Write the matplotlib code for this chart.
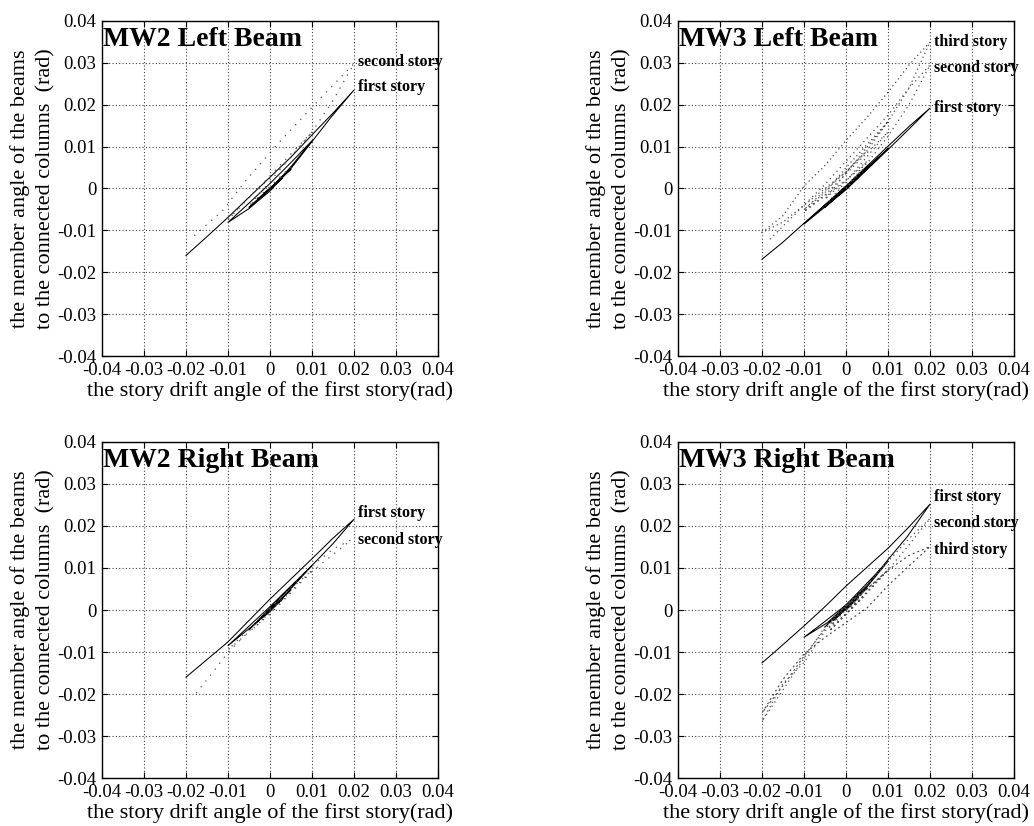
import matplotlib
matplotlib.use("Agg")
import matplotlib.pyplot as plt
from matplotlib.ticker import FuncFormatter

plt.rcParams["font.family"] = ["Liberation Serif", "DejaVu Serif"]

TICKS = [-0.04, -0.03, -0.02, -0.01, 0, 0.01, 0.02, 0.03, 0.04]

# ---- MW2 Left Beam ----
mw2l_first_x = [0, 0.003, -0.003, 0.005, -0.005, 0.0, 0.005, 0.01, 0.005, 0.0, -0.005, -0.01,
                -0.005, 0.0, 0.005, 0.01, 0.0146, 0.02, 0.015, 0.01, 0.005, 0.0, -0.005,
                -0.01, -0.015, -0.02]
mw2l_first_y = [0, 0.0025, -0.0026, 0.0046, -0.0045, -0.0002, 0.0052, 0.0114, 0.0062, 0.0012,
                -0.0035, -0.0081, -0.0048, -0.0006, 0.0048, 0.0112, 0.0171, 0.0235, 0.018,
                0.0128, 0.0075, 0.0027, -0.0021, -0.0069, -0.0115, -0.016]
mw2l_second_x = [0, 0.005, -0.005, 0.01, 0.005, 0, -0.005, -0.01, 0, 0.01, 0.015, 0.02,
                 0.013, 0.0016, -0.0059, -0.0114, -0.0185]
mw2l_second_y = [0, 0.0052, -0.0042, 0.0135, 0.0075, 0.0025, -0.002, -0.0075, 0.003, 0.0135,
                 0.021, 0.0298, 0.0226, 0.0104, 0.0017, -0.0054, -0.0117]

# ---- MW3 Left Beam ----
mw3l_first_x = [0, 0.003, -0.003, 0.005, -0.005, 0.01, 0, -0.01, 0, 0.01, 0.015, 0.02,
                0.015, 0.01, 0, -0.01, -0.015, -0.02]
mw3l_first_y = [0, 0.0027, -0.0027, 0.0047, -0.0045, 0.0095, 0.0005, -0.0085, -0.0003, 0.0093,
                0.0142, 0.0192, 0.0148, 0.0101, 0.0006, -0.0083, -0.0128, -0.0169]
mw3l_second_x = [0, 0.004, -0.004, 0.01, 0.005, 0, -0.005, -0.01, 0, 0.005, 0.01, 0.015,
                 0.02, 0.015, 0.01, 0.005, 0, -0.005, -0.01, -0.015, -0.0185]
mw3l_second_y = [0, 0.0045, -0.003, 0.0135, 0.0085, 0.0035, -0.0015, -0.0055, 0.002, 0.006,
                 0.0125, 0.02, 0.0295, 0.024, 0.0175, 0.012, 0.0065, 0.001, -0.004, -0.009,
                 -0.0125]
mw3l_third_x = [0, 0.005, -0.005, 0.01, 0.005, 0, -0.005, -0.01, 0, 0.005, 0.01, 0.015,
                0.02, 0.015, 0.01, 0.005, 0, -0.005, -0.01, -0.015, -0.02, -0.015, -0.01,
                -0.005, 0, 0.005]
mw3l_third_y = [0, 0.0065, -0.0025, 0.016, 0.0105, 0.005, -0.001, -0.005, 0.004, 0.009, 0.016,
                0.024, 0.035, 0.0295, 0.023, 0.017, 0.0115, 0.0055, 0.0006, -0.0065, -0.0105,
                -0.008, -0.004, 0.0, 0.004, 0.009]

# ---- MW2 Right Beam ----
mw2r_first_x = [0, 0.003, -0.003, 0.005, -0.005, 0.01, 0, -0.01, 0, 0.01, 0.015, 0.02,
                0.015, 0.01, 0, -0.01, -0.015, -0.02]
mw2r_first_y = [0, 0.0026, -0.0027, 0.0048, -0.0047, 0.0106, 0.0008, -0.0085, -0.0004, 0.0106,
                0.0158, 0.0216, 0.0171, 0.0122, 0.0026, -0.0076, -0.0118, -0.016]
mw2r_second_x = [0, 0.004, -0.004, 0.01, 0.005, 0, -0.005, -0.01, 0, 0.01, 0.0154, 0.0193,
                 0.015, 0.01, 0.002, -0.006, -0.01, -0.0139, -0.0183]
mw2r_second_y = [0, 0.0035, -0.0045, 0.0095, 0.005, 0.0005, -0.0045, -0.0095, -0.001, 0.0092,
                 0.0135, 0.0167, 0.0145, 0.0105, 0.0025, -0.0061, -0.0101, -0.0152, -0.0207]

# ---- MW3 Right Beam ----
mw3r_first_x = [0, 0.003, -0.003, 0.005, -0.005, 0.01, 0.005, 0, -0.0044, -0.01, -0.005, 0,
                0.005, 0.01, 0.0146, 0.02, 0.015, 0.01, 0.005, 0, -0.005, -0.01, -0.0162,
                -0.02]
mw3r_first_y = [0, 0.003, -0.0025, 0.0052, -0.004, 0.0116, 0.0055, 0.001, -0.003, -0.0065,
                -0.0027, 0.0012, 0.0058, 0.012, 0.0175, 0.0252, 0.0198, 0.0147, 0.0102,
                0.0057, 0.0008, -0.0038, -0.0093, -0.0126]
mw3r_second_x = [0, 0.004, -0.004, 0.01, 0.005, 0, -0.005, -0.01, -0.015, -0.02, -0.015,
                 -0.01, -0.005, 0, 0.005, 0.01, 0.015, 0.02, 0.015, 0.01, 0.005, 0, -0.005]
mw3r_second_y = [0, 0.004, -0.004, 0.0116, 0.006, 0.0012, -0.004, -0.0115, -0.019, -0.0265,
                 -0.0175, -0.0125, -0.005, -0.001, 0.004, 0.0095, 0.0155, 0.0218, 0.017,
                 0.0116, 0.006, 0.0012, -0.004]
mw3r_third_x = [0, 0.004, -0.004, 0.01, 0.005, 0, -0.005, -0.01, -0.015, -0.02, -0.015, -0.01,
                -0.005, 0, 0.005, 0.01, 0.015, 0.02, 0.015, 0.01, 0.005, 0]
mw3r_third_y = [0, 0.003, -0.005, 0.0095, 0.005, 0.001, -0.0045, -0.011, -0.018, -0.0245,
                -0.0165, -0.0105, -0.0065, -0.003, 0.0005, 0.0058, 0.0105, 0.0151, 0.013,
                0.0095, 0.005, 0.001]

panels = [
    ("MW2 Left Beam", [0.0986, 0.569, 0.325, 0.4056],
     [(mw2l_first_x, mw2l_first_y, "first story", 0.0242, "-"),
      (mw2l_second_x, mw2l_second_y, "second story", 0.0301, (0, (1, 5)))]),
    ("MW3 Left Beam", [0.6557, 0.569, 0.325, 0.4056],
     [(mw3l_first_x, mw3l_first_y, "first story", 0.0192, "-"),
      (mw3l_second_x, mw3l_second_y, "second story", 0.0287, (0, (1, 3))),
      (mw3l_third_x, mw3l_third_y, "third story", 0.0349, (0, (1, 2.5)))]),
    ("MW2 Right Beam", [0.0986, 0.0581, 0.325, 0.4068],
     [(mw2r_first_x, mw2r_first_y, "first story", 0.0231, "-"),
      (mw2r_second_x, mw2r_second_y, "second story", 0.0167, (0, (1, 5)))]),
    ("MW3 Right Beam", [0.6557, 0.0581, 0.325, 0.4068],
     [(mw3r_first_x, mw3r_first_y, "first story", 0.0268, "-"),
      (mw3r_second_x, mw3r_second_y, "second story", 0.0208, (0, (1, 3))),
      (mw3r_third_x, mw3r_third_y, "third story", 0.0143, (0, (1.5, 2.5)))]),
]


def fmt(v, _pos):
    if abs(v) < 1e-9:
        return "0"
    return f"{v:.2f}"


fig = plt.figure(figsize=(10.34, 8.26), dpi=100)
fig.patch.set_facecolor("white")

for title, rect, series in panels:
    ax = fig.add_axes(rect)
    ax.set_xlim(-0.04, 0.04)
    ax.set_ylim(-0.04, 0.04)
    ax.set_xticks(TICKS)
    ax.set_yticks(TICKS)
    ax.xaxis.set_major_formatter(FuncFormatter(fmt))
    ax.yaxis.set_major_formatter(FuncFormatter(fmt))
    ax.tick_params(direction="in", length=4, width=0.8, top=True, right=True,
                   labelsize=13.5)
    ax.tick_params(axis="x", pad=4)
    ax.tick_params(axis="y", pad=4)
    ax.grid(True, color="0.25", linestyle=(0, (1, 2)), linewidth=0.8)
    for sp in ax.spines.values():
        sp.set_linewidth(1.0)

    for xs, ys, label, ly, ls in series:
        if ls == "-":
            ax.plot(xs, ys, color="black", lw=0.75, ls=ls)
        else:
            ax.plot(xs, ys, color="0.3", lw=0.9, ls=ls)
        ax.text(0.021, ly, label, fontsize=11.5, fontweight="bold", va="center",
                ha="left", color="black")

    ax.text(-0.0398, 0.0356, title, fontsize=20, fontweight="bold", va="center",
            ha="left", color="black")
    ax.set_xlabel("the story drift angle of the first story(rad)", fontsize=16,
                  labelpad=2)
    ax.set_ylabel("the member angle of the beams\nto the connected columns  (rad)",
                  fontsize=16, labelpad=1, linespacing=1.45)

fig.savefig("out.png", dpi=100, facecolor="white")
